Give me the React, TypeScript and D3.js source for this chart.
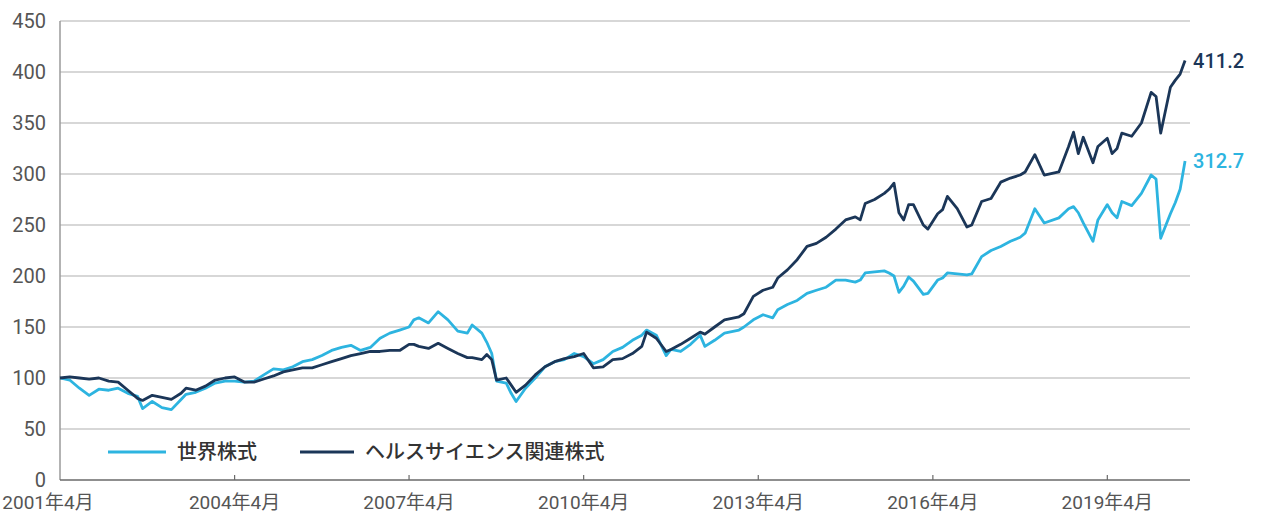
import React from "react";
import * as d3 from "d3";

const dates = [
  "2001-04","2001-06","2001-08","2001-10","2001-12","2002-02","2002-04","2002-06","2002-08","2002-09",
  "2002-11","2003-01","2003-03","2003-05","2003-06","2003-08","2003-10","2003-12","2004-02","2004-04",
  "2004-06","2004-08","2004-10","2004-12","2005-02","2005-04","2005-06","2005-08","2005-10","2005-12",
  "2006-02","2006-04","2006-06","2006-08","2006-10","2006-12","2007-02","2007-04","2007-05","2007-06",
  "2007-08","2007-10","2007-12","2008-02","2008-04","2008-05","2008-07","2008-08","2008-09","2008-10",
  "2008-12","2009-01","2009-02","2009-04","2009-06","2009-08","2009-10","2009-12","2010-02","2010-04",
  "2010-06","2010-08","2010-10","2010-12","2011-02","2011-04","2011-05","2011-07","2011-09","2011-10",
  "2011-12","2012-02","2012-04","2012-05","2012-07","2012-09","2012-12","2013-01","2013-03","2013-05",
  "2013-07","2013-08","2013-10","2013-12","2014-02","2014-04","2014-06","2014-08","2014-10","2014-12",
  "2015-01","2015-02","2015-04","2015-06","2015-07","2015-08","2015-09","2015-10","2015-11","2015-12",
  "2016-02","2016-03","2016-05","2016-06","2016-07","2016-09","2016-11","2016-12","2017-02","2017-04",
  "2017-06","2017-08","2017-10","2017-11","2018-01","2018-03","2018-06","2018-08","2018-09","2018-10",
  "2018-11","2019-01","2019-02","2019-04","2019-05","2019-06","2019-07","2019-09","2019-11","2020-01",
  "2020-02","2020-03","2020-05","2020-06","2020-07","2020-08",
];

const worldStocks = [
  100, 98, 90, 83, 89, 88, 90, 85, 82, 70,
  77, 71, 69, 79, 84, 86, 90, 95, 97, 97,
  96, 97, 103, 109, 108, 111, 116, 118, 122, 127,
  130, 132, 127, 130, 139, 144, 147, 150, 157, 159,
  154, 165, 157, 146, 144, 152, 144, 135, 124, 97,
  95, 85, 77, 90, 100, 111, 116, 118, 124, 121,
  114, 118, 126, 130, 137, 142, 147, 142, 122, 128,
  126, 133, 142, 131, 137, 144, 147, 150, 157, 162,
  159, 167, 172, 176, 183, 186, 189, 196, 196, 194,
  196, 203, 204, 205, 203, 200, 184, 190, 199, 195,
  182, 183, 196, 198, 203, 202, 201, 202, 219, 225,
  229, 234, 238, 242, 266, 252, 257, 266, 268, 262,
  252, 234, 255, 270, 262, 257, 273, 269, 281, 299,
  295, 237, 261, 272, 285, 312.7,
];

const healthStocks = [
  100, 101, 100, 99, 100, 97, 96, 88, 80, 78,
  83, 81, 79, 85, 90, 88, 92, 98, 100, 101,
  96, 96, 99, 102, 106, 108, 110, 110, 113, 116,
  119, 122, 124, 126, 126, 127, 127, 133, 133, 131,
  129, 134, 129, 124, 120, 120, 118, 123, 118, 98,
  100, 93, 86, 93, 103, 111, 116, 119, 121, 124,
  110, 111, 118, 119, 124, 131, 145, 139, 126, 128,
  133, 139, 145, 143, 150, 157, 160, 163, 180, 186,
  189, 198, 206, 216, 229, 232, 238, 246, 255, 258,
  255, 271, 275, 281, 285, 291, 262, 255, 270, 270,
  250, 246, 261, 265, 278, 266, 248, 250, 273, 276,
  292, 296, 299, 302, 319, 299, 302, 327, 341, 320,
  336, 311, 327, 335, 320, 325, 340, 337, 350, 380,
  376, 340, 385, 392, 398, 411.2,
];

const yTicks = [0, 50, 100, 150, 200, 250, 300, 350, 400, 450];
const xTickDates = ["2001-04", "2004-04", "2007-04", "2010-04", "2013-04", "2016-04", "2019-04"];
const xTickLabels = ["2001年4月", "2004年4月", "2007年4月", "2010年4月", "2013年4月", "2016年4月", "2019年4月"];
const seriesNames = ["世界株式", "ヘルスサイエンス関連株式"];

const W = 1262;
const H = 515;
const parse = d3.timeParse("%Y-%m");
const WORLD = "#2db4e0";
const HEALTH = "#1b3658";
const FONT = "Roboto, 'Noto Sans CJK JP', sans-serif";

export default function App() {
  const x = d3
    .scaleTime()
    .domain([parse("2001-04") as Date, parse("2020-09") as Date])
    .range([60, 1190]);
  const y = d3.scaleLinear().domain([0, 450]).range([480, 21]);

  const rows = dates.map((d, i) => ({ date: parse(d) as Date, w: worldStocks[i], h: healthStocks[i] }));
  const lineW = d3
    .line<(typeof rows)[number]>()
    .x((d) => x(d.date))
    .y((d) => y(d.w));
  const lineH = d3
    .line<(typeof rows)[number]>()
    .x((d) => x(d.date))
    .y((d) => y(d.h));

  const last = rows[rows.length - 1];
  const [x0, x1] = x.range();

  return (
    <svg
      width={W}
      height={H}
      style={{ position: "absolute", left: 0, top: 0, background: "#fff" }}
      fontFamily={FONT}
    >
      {yTicks.map((t) =>
        t === 0 ? null : (
          <line key={"g" + t} x1={x0} x2={x1} y1={y(t)} y2={y(t)} stroke="#cacaca" strokeWidth={1.5} />
        )
      )}
      <line x1={x0} x2={x0} y1={y(450)} y2={y(0)} stroke="#9a9a9a" strokeWidth={1.5} />
      <line x1={x0} x2={x1} y1={y(0)} y2={y(0)} stroke="#6a6a6a" strokeWidth={1.5} />
      {xTickDates.map((d, i) => {
        const xx = x(parse(d) as Date);
        return (
          <g key={d}>
            {i > 0 && <line x1={xx} x2={xx} y1={y(0)} y2={y(0) - 5} stroke="#6a6a6a" strokeWidth={1.2} />}
            <text x={i === 0 ? xx - 12 : xx} y={509} textAnchor="middle" fontSize={19} fill="#555">
              {xTickLabels[i]}
            </text>
          </g>
        );
      })}
      {yTicks.map((t) => (
        <text key={"y" + t} x={46} y={y(t)} dy="0.36em" textAnchor="end" fontSize={20} fill="#555">
          {t}
        </text>
      ))}

      <path d={lineW(rows) ?? ""} fill="none" stroke={WORLD} strokeWidth={2.8} strokeLinejoin="round" />
      <path d={lineH(rows) ?? ""} fill="none" stroke={HEALTH} strokeWidth={2.8} strokeLinejoin="round" />

      <text x={x(last.date) + 8} y={y(last.h)} dy="0.36em" fontSize={20} fill={HEALTH} fontWeight={500}>
        {last.h.toFixed(1)}
      </text>
      <text x={x(last.date) + 8} y={y(last.w)} dy="0.36em" fontSize={20} fill={WORLD} fontWeight={500}>
        {last.w.toFixed(1)}
      </text>

      <g>
        <line x1={108} x2={166} y1={452} y2={452} stroke={WORLD} strokeWidth={3} />
        <text x={177} y={452} dy="0.36em" fontSize={20} fill="#333" fontWeight={500}>
          {seriesNames[0]}
        </text>
        <line x1={300} x2={354} y1={452} y2={452} stroke={HEALTH} strokeWidth={3} />
        <text x={365} y={452} dy="0.36em" fontSize={20} fill="#333" fontWeight={500}>
          {seriesNames[1]}
        </text>
      </g>
    </svg>
  );
}
